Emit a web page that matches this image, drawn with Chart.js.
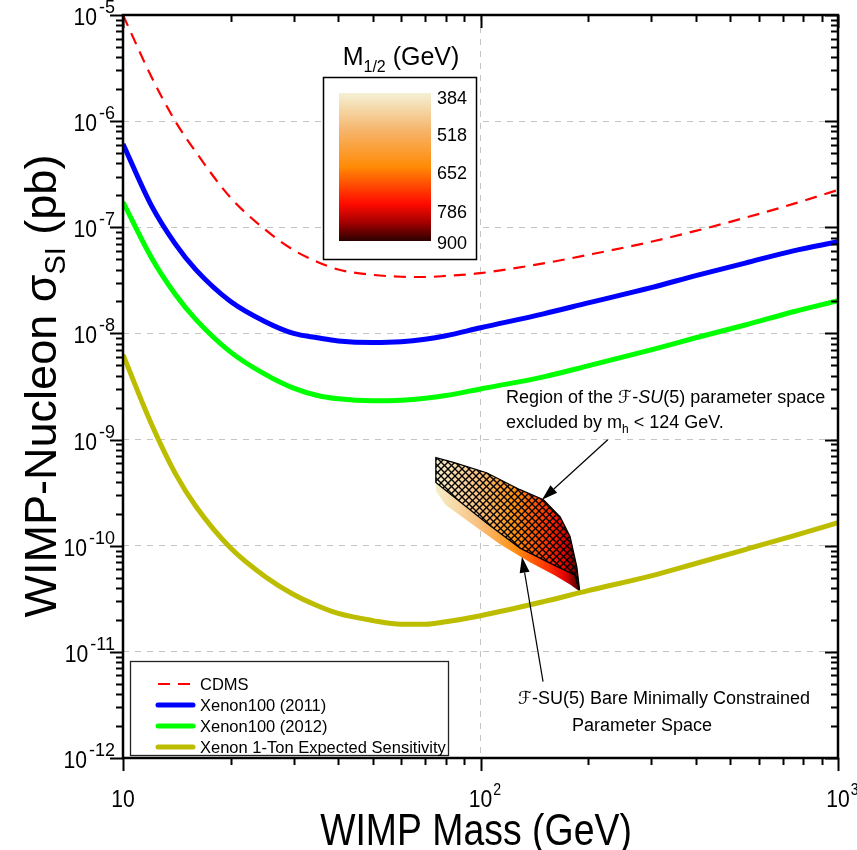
<!DOCTYPE html>
<html>
<head>
<meta charset="utf-8">
<title>WIMP-Nucleon cross section limits</title>
<script src="https://cdn.jsdelivr.net/npm/chart.js@4.4.1/dist/chart.umd.min.js"></script>
<style>
  html, body { margin: 0; padding: 0; background: #fff; }
  canvas { display: block; }
</style>
</head>
<body>
<canvas id="myChart" width="857" height="850"></canvas>
<script>
const FONT = "'Liberation Sans', Arial, Helvetica, sans-serif";
const SCRIPT_FONT = "'DejaVu Sans', 'Noto Sans', sans-serif";

// WIMP mass (GeV) sample points shared by the limit curves
const masses = [10, 12, 14, 16, 20, 25, 30, 35, 40, 50, 60, 70, 80, 100, 150, 200, 300, 400, 550, 750, 1000];
// cross sections (pb)
const cdms = [1.0e-5, 2.63e-6, 1.0e-6, 5.1e-7, 1.9e-7, 9.5e-8, 6.1e-8, 4.72e-8, 4.0e-8, 3.56e-8, 3.42e-8, 3.4e-8, 3.48e-8, 3.7e-8, 4.57e-8, 5.5e-8, 7.3e-8, 9.25e-8, 1.23e-7, 1.66e-7, 2.25e-7];
const xenon100_2011 = [6.1e-7, 1.61e-7, 6.98e-8, 3.97e-8, 2.0e-8, 1.29e-8, 1.0e-8, 9.1e-9, 8.5e-9, 8.2e-9, 8.34e-9, 8.8e-9, 9.5e-9, 1.13e-8, 1.53e-8, 1.94e-8, 2.7e-8, 3.5e-8, 4.6e-8, 6.0e-8, 7.3e-8];
const xenon100_2012 = [1.73e-7, 5.2e-8, 2.34e-8, 1.35e-8, 6.67e-9, 4.11e-9, 3.05e-9, 2.6e-9, 2.42e-9, 2.32e-9, 2.35e-9, 2.45e-9, 2.6e-9, 3.0e-9, 3.9e-9, 4.95e-9, 7.0e-9, 9.1e-9, 1.2e-8, 1.6e-8, 2.03e-8];
const xenon1ton = [6.3e-9, 1.41e-9, 4.8e-10, 2.34e-10, 9.5e-11, 5.1e-11, 3.47e-11, 2.72e-11, 2.3e-11, 1.97e-11, 1.82e-11, 1.82e-11, 1.92e-11, 2.19e-11, 2.97e-11, 3.77e-11, 5.2e-11, 6.8e-11, 9.2e-11, 1.24e-10, 1.65e-10];
const seriesNames = ['CDMS', 'Xenon100 (2011)', 'Xenon100 (2012)', 'Xenon 1-Ton Expected Sensitivity'];

// F-SU(5) parameter space region (mass, xsec) outlines
const regionTopMass = [75, 84, 104, 129, 150, 167, 178, 186, 189.5];
const regionTopXsec = [6.75e-10, 6.1e-10, 4.87e-10, 3.37e-10, 2.71e-10, 1.87e-10, 1.22e-10, 6.3e-11, 3.7e-11];
const hatchLowMass = [75, 84, 104, 129, 160, 183.5, 189.5];
const hatchLowXsec = [3.94e-10, 2.91e-10, 1.64e-10, 9.5e-11, 6.6e-11, 5.3e-11, 3.7e-11];
const bandLowMass = [75, 79.6, 93.5, 113.4, 137.5, 161.6, 178, 189.5];
const bandLowXsec = [3.3e-10, 2.45e-10, 1.65e-10, 1.03e-10, 7.0e-11, 5.25e-11, 4.3e-11, 3.7e-11];

// axis ticks
const xTickValues = [10, 100, 1000];
const xTickExps = ['', '2', '3'];
const yTickValues = [1e-12, 1e-11, 1e-10, 1e-9, 1e-8, 1e-7, 1e-6, 1e-5];
const yTickExps = ['-12', '-11', '-10', '-9', '-8', '-7', '-6', '-5'];

// colour bar (M1/2 in GeV)
const colorbarLabels = [384, 518, 652, 786, 900];
const colorbarStops = [[0, '#f4f1d6'], [0.25, '#f6b56c'], [0.5, '#ff8a05'], [0.75, '#ff0a00'], [0.88, '#a00000'], [1, '#2a0000']];
const regionStops = [[0, '#f5eec8'], [0.3, '#f8c07e'], [0.55, '#ff9010'], [0.78, '#ff3000'], [0.9, '#e00000'], [1, '#400000']];

const f = (size, style) => (style ? style + ' ' : '') + size + 'px ' + FONT;

function richWidth(ctx, parts) {
  let w = 0;
  for (const p of parts) { ctx.font = p.font; w += ctx.measureText(p.text).width; }
  return w;
}
// draws mixed-font text on one baseline; sx squeezes it horizontally
function drawRich(ctx, parts, x, y, align, sx) {
  sx = sx || 1;
  const w = richWidth(ctx, parts) * sx;
  const x0 = align === 'center' ? x - w / 2 : align === 'right' ? x - w : x;
  ctx.save();
  ctx.translate(x0, y);
  ctx.scale(sx, 1);
  ctx.textAlign = 'left';
  ctx.textBaseline = 'alphabetic';
  let cx = 0;
  for (const p of parts) {
    ctx.font = p.font;
    ctx.fillText(p.text, cx, p.dy || 0);
    cx += ctx.measureText(p.text).width;
  }
  ctx.restore();
}

function toPixels(chart, ms, ss) {
  const { x, y } = chart.scales;
  return ms.map((m, i) => [x.getPixelForValue(m), y.getPixelForValue(ss[i])]);
}

function hatchPattern(ctx) {
  const s = 7;
  const c = document.createElement('canvas');
  c.width = s; c.height = s;
  const g = c.getContext('2d');
  g.strokeStyle = '#000';
  g.lineWidth = 1.3;
  for (const o of [-s, 0, s]) {
    g.beginPath(); g.moveTo(o, 0); g.lineTo(o + s, s); g.stroke();
    g.beginPath(); g.moveTo(o, s); g.lineTo(o + s, 0); g.stroke();
  }
  return ctx.createPattern(c, 'repeat');
}

function drawRegion(chart) {
  const ctx = chart.ctx;
  const top = toPixels(chart, regionTopMass, regionTopXsec);
  const hatchLow = toPixels(chart, hatchLowMass, hatchLowXsec);
  const bandLow = toPixels(chart, bandLowMass, bandLowXsec);
  const grad = ctx.createLinearGradient(top[0][0], 0, top[top.length - 1][0], 0);
  regionStops.forEach(([o, c]) => grad.addColorStop(o, c));
  ctx.save();
  ctx.beginPath();
  top.forEach(([px, py], i) => i ? ctx.lineTo(px, py) : ctx.moveTo(px, py));
  bandLow.slice().reverse().forEach(([px, py]) => ctx.lineTo(px, py));
  ctx.closePath();
  ctx.fillStyle = grad;
  ctx.fill();

  ctx.beginPath();
  top.forEach(([px, py], i) => i ? ctx.lineTo(px, py) : ctx.moveTo(px, py));
  hatchLow.slice().reverse().forEach(([px, py]) => ctx.lineTo(px, py));
  ctx.closePath();
  ctx.fillStyle = hatchPattern(ctx);
  ctx.fill();
  ctx.strokeStyle = '#000';
  ctx.lineWidth = 1.3;
  ctx.stroke();
  ctx.restore();
}

function drawAxes(chart) {
  const { ctx, chartArea: a, scales: { x, y } } = chart;
  ctx.save();
  ctx.strokeStyle = '#000';
  ctx.lineWidth = 2;
  ctx.beginPath();
  for (let d = 1; d <= 3; d++) {
    for (let k = 1; k <= 9; k++) {
      const v = k * Math.pow(10, d);
      if (v > 1000) continue;
      const p = Math.round(x.getPixelForValue(v)) + 0.5;
      const len = k === 1 ? 13 : 7;
      ctx.moveTo(p, a.bottom); ctx.lineTo(p, a.bottom + len);
      ctx.moveTo(p, a.top); ctx.lineTo(p, a.top + len);
    }
  }
  for (let d = -12; d <= -5; d++) {
    for (let k = 1; k <= 9; k++) {
      if (d === -5 && k > 1) continue;
      const v = k * Math.pow(10, d);
      const p = Math.round(y.getPixelForValue(v)) + 0.5;
      const len = k === 1 ? 13 : 7;
      ctx.moveTo(a.left - len, p); ctx.lineTo(a.left, p);
      ctx.moveTo(a.right - len, p); ctx.lineTo(a.right, p);
    }
  }
  ctx.stroke();
  ctx.lineWidth = 2.5;
  ctx.strokeRect(a.left, a.top, a.right - a.left, a.bottom - a.top);

  // tick labels
  ctx.fillStyle = '#000';
  const SX = 0.88;
  xTickValues.forEach((v, i) => {
    const p = x.getPixelForValue(v);
    ctx.font = f(24);
    const bw = ctx.measureText('10').width * SX;
    drawRich(ctx, [{ text: '10', font: f(24) }], p, a.bottom + 49, 'center', SX);
    if (xTickExps[i]) {
      drawRich(ctx, [{ text: xTickExps[i], font: f(16) }], p + bw / 2 + 1, a.bottom + 37, 'left', SX);
    }
  });
  yTickValues.forEach((v, i) => {
    const p = y.getPixelForValue(v);
    const exp = yTickExps[i];
    ctx.font = f(18);
    const ew = ctx.measureText(exp).width;
    drawRich(ctx, [{ text: exp, font: f(18) }], a.left - 8, p - 2, 'right');
    drawRich(ctx, [{ text: '10', font: f(24) }], a.left - 10 - ew, p + 10, 'right', SX);
  });

  // axis titles
  drawRich(ctx, [{ text: 'WIMP Mass (GeV)', font: f(44) }], 476, 845, 'center', 0.85);
  ctx.translate(56, 386);
  ctx.rotate(-Math.PI / 2);
  drawRich(ctx, [
    { text: 'WIMP-Nucleon \u03c3', font: f(45) },
    { text: 'SI', font: f(29), dy: 9 },
    { text: ' (pb)', font: f(45) }
  ], 0, 0, 'center');
  ctx.restore();
}

function drawLegend(chart) {
  const ctx = chart.ctx;
  ctx.save();
  ctx.strokeStyle = '#222';
  ctx.lineWidth = 1.3;
  ctx.strokeRect(130.5, 661.5, 318, 94);
  const rows = [684, 705, 726, 747];
  chart.data.datasets.forEach((ds, i) => {
    const yy = rows[i];
    ctx.beginPath();
    ctx.strokeStyle = ds.borderColor;
    ctx.lineWidth = ds.borderWidth;
    ctx.lineCap = ds.borderDash ? 'butt' : 'round';
    ctx.setLineDash(ds.borderDash || []);
    ctx.moveTo(158, yy); ctx.lineTo(193, yy);
    ctx.stroke();
    ctx.setLineDash([]);
    ctx.fillStyle = '#000';
    drawRich(ctx, [{ text: ds.label, font: f(16.5) }], 200, yy + 6, 'left');
  });
  ctx.restore();
}

function drawColorbar(chart) {
  const ctx = chart.ctx;
  ctx.save();
  ctx.fillStyle = '#000';
  drawRich(ctx, [
    { text: 'M', font: f(25) },
    { text: '1/2', font: f(16), dy: 7 },
    { text: ' (GeV)', font: f(25) }
  ], 401, 65, 'center');
  ctx.fillStyle = '#fff';
  ctx.fillRect(323, 77, 153, 182);
  ctx.strokeStyle = '#000';
  ctx.lineWidth = 1.5;
  ctx.strokeRect(323.5, 77.5, 153, 182);
  const top = 93, bot = 241;
  const grad = ctx.createLinearGradient(0, top, 0, bot);
  colorbarStops.forEach(([o, c]) => grad.addColorStop(o, c));
  ctx.fillStyle = grad;
  ctx.fillRect(339, top, 92, bot - top);
  ctx.fillStyle = '#000';
  const lo = colorbarLabels[0], hi = colorbarLabels[colorbarLabels.length - 1];
  colorbarLabels.forEach(v => {
    let yy = top + (v - lo) / (hi - lo) * (bot - top) + 3;
    yy = Math.min(Math.max(yy, 97), 242);
    drawRich(ctx, [{ text: String(v), font: f(18) }], 467, yy + 6.5, 'right');
  });
  ctx.restore();
}

function arrow(ctx, x0, y0, x1, y1) {
  const ang = Math.atan2(y1 - y0, x1 - x0);
  const len = 16, hw = 5;
  const bx = x1 - len * Math.cos(ang), by = y1 - len * Math.sin(ang);
  ctx.beginPath();
  ctx.moveTo(x0, y0); ctx.lineTo(bx, by);
  ctx.stroke();
  ctx.beginPath();
  ctx.moveTo(x1, y1);
  ctx.lineTo(bx + hw * Math.sin(ang), by - hw * Math.cos(ang));
  ctx.lineTo(bx - hw * Math.sin(ang), by + hw * Math.cos(ang));
  ctx.closePath();
  ctx.fill();
}

function drawAnnotations(chart) {
  const ctx = chart.ctx;
  const { x, y } = chart.scales;
  ctx.save();
  ctx.fillStyle = '#000';
  ctx.strokeStyle = '#000';
  ctx.lineWidth = 1.2;
  arrow(ctx, x.getPixelForValue(227), y.getPixelForValue(9.95e-10), x.getPixelForValue(148.6), y.getPixelForValue(2.71e-10));
  arrow(ctx, x.getPixelForValue(149.6), y.getPixelForValue(5.25e-12), x.getPixelForValue(130.6), y.getPixelForValue(7.87e-11));

  drawRich(ctx, [
    { text: 'Region of the ', font: f(18) },
    { text: '\u2131', font: 'italic 18px ' + SCRIPT_FONT },
    { text: '-', font: f(18) },
    { text: 'SU', font: f(18, 'italic') },
    { text: '(5) parameter space', font: f(18) }
  ], 506, 403, 'left');
  drawRich(ctx, [
    { text: 'excluded by m', font: f(18) },
    { text: 'h', font: f(12), dy: 5 },
    { text: ' < 124 GeV.', font: f(18) }
  ], 506, 428, 'left');
  drawRich(ctx, [
    { text: '\u2131', font: 'italic 18px ' + SCRIPT_FONT },
    { text: '-SU(5) Bare Minimally Constrained', font: f(18) }
  ], 664, 704, 'center');
  drawRich(ctx, [{ text: 'Parameter Space', font: f(18) }], 642, 731, 'center');
  ctx.restore();
}

const decor = {
  id: 'decor',
  beforeDatasetsDraw(chart) { drawRegion(chart); },
  afterDraw(chart) {
    drawAxes(chart);
    drawLegend(chart);
    drawColorbar(chart);
    drawAnnotations(chart);
  }
};

const isDecade = v => Math.abs(Math.log10(v) - Math.round(Math.log10(v))) < 1e-6;
const pts = ys => masses.map((m, i) => ({ x: m, y: ys[i] }));

const data = {
  datasets: [
    { label: seriesNames[0], data: pts(cdms), borderColor: '#ff0000', borderWidth: 2.2, borderDash: [12, 8] },
    { label: seriesNames[1], data: pts(xenon100_2011), borderColor: '#0000ff', borderWidth: 5 },
    { label: seriesNames[2], data: pts(xenon100_2012), borderColor: '#00ff00', borderWidth: 5 },
    { label: seriesNames[3], data: pts(xenon1ton), borderColor: '#bdbd00', borderWidth: 5 }
  ]
};

const gridOpts = {
  drawTicks: false,
  lineWidth: 1,
  color: ctx => (ctx.tick && isDecade(ctx.tick.value)) ? '#c4c4c4' : 'rgba(0,0,0,0)'
};

const config = {
  type: 'line',
  data: data,
  options: {
    responsive: false,
    animation: false,
    events: [],
    layout: { padding: { left: 123, right: 19, top: 15, bottom: 92 } },
    elements: {
      point: { radius: 0 },
      line: { cubicInterpolationMode: 'monotone', borderCapStyle: 'butt', fill: false }
    },
    scales: {
      x: {
        type: 'logarithmic', min: 10, max: 1000,
        ticks: { display: false },
        grid: gridOpts,
        border: { display: false, dash: [6, 6] }
      },
      y: {
        type: 'logarithmic', min: 1e-12, max: 1e-5,
        ticks: { display: false },
        grid: gridOpts,
        border: { display: false, dash: [6, 6] }
      }
    },
    plugins: {
      legend: { display: false },
      tooltip: { enabled: false }
    }
  },
  plugins: [decor]
};

new Chart(document.getElementById('myChart'), config);
</script>
</body>
</html>
